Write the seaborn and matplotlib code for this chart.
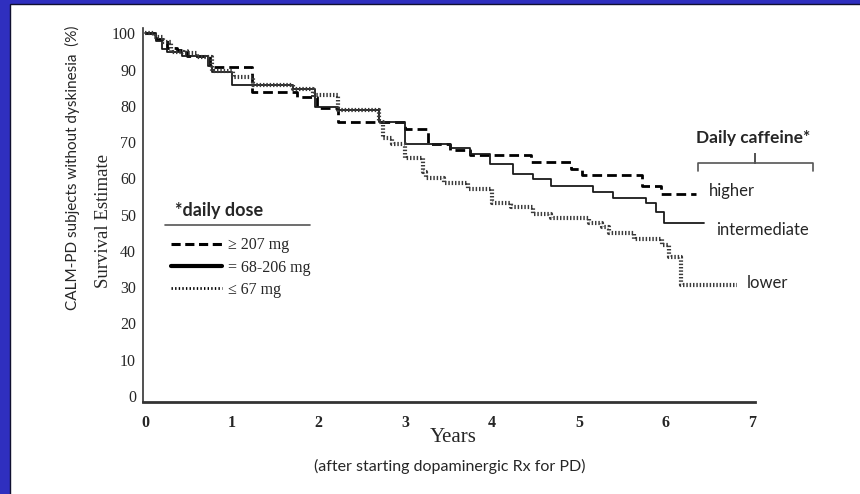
import pandas as pd
import matplotlib.pyplot as plt
import seaborn as sns
from matplotlib.lines import Line2D
from matplotlib.patches import Rectangle

# Kaplan-Meier step curves (years, % without dyskinesia)
high_t = [0, 0.12, 0.25, 0.37, 0.48, 0.75, 1.23, 1.75, 1.98, 2.22, 2.99, 3.26,
          3.51, 3.74, 4.45, 4.91, 5.03, 5.73, 5.95, 6.35]
high_v = [100, 98.5, 96, 95.3, 93.9, 90.7, 83.8, 82.4, 79.5, 75.5, 73.7, 69.6,
          67.8, 66.4, 64.5, 62.7, 60.9, 57.9, 55.6, 55.6]

mid_t = [0, 0.13, 0.19, 0.25, 0.42, 0.72, 0.77, 1.0, 1.70, 1.96, 2.22, 2.70,
         2.99, 3.51, 3.74, 3.97, 4.24, 4.47, 4.68, 5.16, 5.39, 5.77, 5.89,
         5.98, 6.44]
mid_v = [100, 98, 95.8, 94.9, 93.7, 91, 89.3, 85.7, 84.6, 79.7, 78.8, 75.5,
         69.6, 68.3, 66.8, 64.1, 61.2, 59.7, 58.0, 56.3, 54.7, 53.1, 50.8,
         47.7, 47.7]

low_t = [0, 0.1, 0.2, 0.3, 0.45, 0.6, 0.77, 1.01, 1.24, 1.70, 1.94, 2.22,
         2.70, 2.74, 2.85, 2.99, 3.20, 3.24, 3.45, 3.72, 4.0, 4.22, 4.47,
         4.68, 5.12, 5.27, 5.35, 5.64, 5.96, 6.04, 6.18, 6.82]
low_v = [100, 99, 97.5, 95, 94.5, 93.5, 89.5, 88.0, 85.7, 84.7, 82.9, 78.8,
         75.5, 71.1, 69.6, 65.5, 61.8, 60.0, 58.8, 57.2, 53.1, 52.0, 50.3,
         49.0, 47.6, 46.7, 44.8, 43.4, 41.6, 38.4, 30.6, 30.6]

groups = ['higher', 'intermediate', 'lower']
dose_labels = ['\u2265 207 mg', '= 68-206 mg', '\u2264 67 mg']

df = pd.concat([
    pd.DataFrame({'Years': high_t, 'Survival': high_v, 'group': 'higher'}),
    pd.DataFrame({'Years': mid_t, 'Survival': mid_v, 'group': 'intermediate'}),
    pd.DataFrame({'Years': low_t, 'Survival': low_v, 'group': 'lower'}),
])

styles = {
    'higher': dict(color='black', lw=2.0, linestyle=(0, (3.5, 1.8))),
    'intermediate': dict(color='#1a1a1a', lw=1.3, linestyle='-'),
    'lower': dict(color='#3a3a3a', lw=3.0, linestyle=(0, (0.35, 0.45)),
                  dash_capstyle='butt'),
}

sns.set_style('white')
serif = ['Liberation Serif', 'DejaVu Serif']
sans = ['Lato', 'DejaVu Sans']

fig = plt.figure(figsize=(8.6, 4.94), dpi=100)
fig.patch.set_facecolor('#2f2fbf')
# white slide panel; only its left and top edges fall inside the figure
fig.add_artist(Rectangle((10 / 860, -0.05), 1.1, 1.05 - 4 / 494,
                         transform=fig.transFigure, facecolor='white',
                         edgecolor='#101030', lw=1, zorder=-1))
ax = fig.add_axes([143 / 860, 92 / 494, 612 / 860, 374 / 494])
ax.set_facecolor('none')

for g in groups:
    sub = df[df['group'] == g]
    sns.lineplot(data=sub, x='Years', y='Survival', drawstyle='steps-post',
                 estimator=None, ax=ax, **styles[g])

ax.set_xlim(-0.025, 7.03)
ax.set_ylim(-1.7, 101.5)
ax.set_xticks(range(0, 8))
ax.set_yticks(range(0, 101, 10))
for lab in ax.get_xticklabels():
    lab.set_family(serif)
    lab.set_fontweight('bold')
    lab.set_fontsize(11.5)
for lab in ax.get_yticklabels():
    lab.set_family(serif)
    lab.set_fontsize(11.5)
ax.tick_params(axis='x', direction='out', length=5, width=1.2, color='#333333', pad=4)
ax.tick_params(axis='y', direction='out', length=3, width=1, color='#333333', pad=2)
sns.despine(ax=ax)
ax.spines['bottom'].set_linewidth(2)
ax.spines['bottom'].set_color('#333333')
ax.spines['left'].set_linewidth(1.2)
ax.spines['left'].set_color('#333333')
ax.set_xlabel('')
ax.set_ylabel('')

# axis titles
fig.text(453 / 860, 1 - 437 / 494, 'Years', family=serif, fontsize=15,
         ha='center', va='center')
fig.text(450 / 860, 1 - 466 / 494, '(after starting dopaminergic Rx for PD)',
         family=sans, fontsize=11.5, ha='center', va='center')
fig.text(103 / 860, 1 - 221 / 494, 'Survival Estimate', family=serif,
         fontsize=13.5, rotation=90, ha='center', va='center')
fig.text(72 / 860, 1 - 168 / 494, 'CALM-PD subjects without dyskinesia  (%)',
         family=sans, fontsize=11, rotation=90, ha='center', va='center')

# dose legend
handles = [Line2D([], [], color='black', lw=2.2, linestyle=(0, (3, 1.5))),
           Line2D([], [], color='black', lw=3),
           Line2D([], [], color='black', lw=2, linestyle=(0, (0.5, 0.8)))]
ax.legend(handles, dose_labels, loc='upper left', bbox_to_anchor=(0.045, 0.44),
          frameon=False, borderpad=0, borderaxespad=0, handlelength=3.2,
          handletextpad=0.4, labelspacing=0.38,
          prop={'family': serif, 'size': 11.5})
ax.text(0.052, 0.513, '*daily dose', transform=ax.transAxes, family=sans,
        fontsize=13, fontweight='bold', ha='left', va='center')
ax.add_line(Line2D([0.036, 0.273], [0.473, 0.473], transform=ax.transAxes,
                   color='#555555', lw=1.2, clip_on=False))

# group labels at curve ends
ax.text(high_t[-1] + 0.15, high_v[-1] + 0.9, 'higher', family=sans,
        fontsize=12, ha='left', va='center')
ax.text(mid_t[-1] + 0.14, mid_v[-1] - 2.0, 'intermediate', family=sans,
        fontsize=12, ha='left', va='center', clip_on=False)
ax.text(low_t[-1] + 0.12, low_v[-1] + 0.5, 'lower', family=sans,
        fontsize=12, ha='left', va='center', clip_on=False)

# "Daily caffeine*" header and bracket
fig.text(753 / 860, 1 - 138 / 494, 'Daily caffeine*', family=sans, fontsize=12.5,
         fontweight='bold', ha='center', va='center')
bx = [698, 698, 755, 755, 755, 813, 813]
by = [171, 163, 163, 154, 163, 163, 171]
fig.add_artist(Line2D([x / 860 for x in bx], [1 - y / 494 for y in by],
                      transform=fig.transFigure, color='#555555', lw=1.2))

fig.savefig('out.png', dpi=100)
